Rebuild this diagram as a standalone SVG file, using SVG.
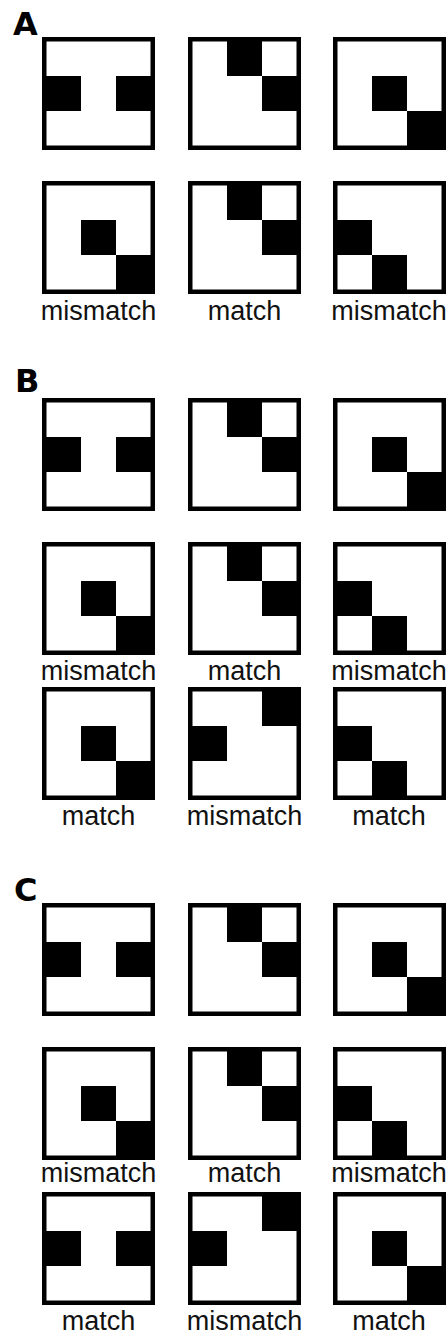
<svg xmlns="http://www.w3.org/2000/svg" xmlns:xlink="http://www.w3.org/1999/xlink" width="448" height="1337" viewBox="0 0 448 1337">
<style>
.frame{fill:#fff;stroke:#000;stroke-width:4.5}
.c{fill:#000}
.lbl{font-family:"Liberation Sans",Arial,sans-serif;font-size:27px;fill:#111;text-anchor:middle}
.pl{font-family:"DejaVu Sans",Verdana,sans-serif;font-weight:bold;font-size:32px;fill:#000}
</style>
<defs>
<rect id="fr" class="frame" x="2.25" y="2.25" width="108.5" height="108.5"/>
<g id="pI"><use xlink:href="#fr"/><rect class="c" x="0" y="39" width="39" height="35"/><rect class="c" x="74" y="39" width="39" height="35"/></g>
<g id="pL"><use xlink:href="#fr"/><rect class="c" x="39" y="0" width="35" height="39"/><rect class="c" x="74" y="39" width="39" height="35"/></g>
<g id="pQ"><use xlink:href="#fr"/><rect class="c" x="39" y="39" width="35" height="35"/><rect class="c" x="74" y="74" width="39" height="39"/></g>
<g id="pS"><use xlink:href="#fr"/><rect class="c" x="0" y="39" width="39" height="35"/><rect class="c" x="39" y="74" width="35" height="39"/></g>
<g id="pR"><use xlink:href="#fr"/><rect class="c" x="74" y="0" width="39" height="39"/><rect class="c" x="0" y="39" width="39" height="35"/></g>
</defs>
<rect width="448" height="1337" fill="#fff"/>

<g id="panelA">
<text class="pl" x="13" y="35">A</text>
<g id="A1"><use xlink:href="#pI" x="42" y="37"/></g>
<g id="A2"><use xlink:href="#pL" x="188" y="37"/></g>
<g id="A3"><use xlink:href="#pQ" x="333" y="37"/></g>
<g id="A4"><use xlink:href="#pQ" x="42" y="181"/><text class="lbl" x="98.5" y="320">mismatch</text></g>
<g id="A5"><use xlink:href="#pL" x="188" y="181"/><text class="lbl" x="244.5" y="320">match</text></g>
<g id="A6"><use xlink:href="#pS" x="333" y="181"/><text class="lbl" x="389" y="320">mismatch</text></g>
</g>

<g id="panelB">
<text class="pl" x="15" y="392">B</text>
<g id="B1"><use xlink:href="#pI" x="42" y="398"/></g>
<g id="B2"><use xlink:href="#pL" x="188" y="398"/></g>
<g id="B3"><use xlink:href="#pQ" x="333" y="398"/></g>
<g id="B4"><use xlink:href="#pQ" x="42" y="542"/><text class="lbl" x="98.5" y="680">mismatch</text></g>
<g id="B5"><use xlink:href="#pL" x="188" y="542"/><text class="lbl" x="244.5" y="680">match</text></g>
<g id="B6"><use xlink:href="#pS" x="333" y="542"/><text class="lbl" x="389" y="680">mismatch</text></g>
<g id="B7"><use xlink:href="#pQ" x="42" y="687"/><text class="lbl" x="98.5" y="825">match</text></g>
<g id="B8"><use xlink:href="#pR" x="188" y="687"/><text class="lbl" x="244.5" y="825">mismatch</text></g>
<g id="B9"><use xlink:href="#pS" x="333" y="687"/><text class="lbl" x="389" y="825">match</text></g>
</g>

<g id="panelC">
<text class="pl" x="14" y="901">C</text>
<g id="C1"><use xlink:href="#pI" x="42" y="903"/></g>
<g id="C2"><use xlink:href="#pL" x="188" y="903"/></g>
<g id="C3"><use xlink:href="#pQ" x="333" y="903"/></g>
<g id="C4"><use xlink:href="#pQ" x="42" y="1047"/><text class="lbl" x="98.5" y="1182">mismatch</text></g>
<g id="C5"><use xlink:href="#pL" x="188" y="1047"/><text class="lbl" x="244.5" y="1182">match</text></g>
<g id="C6"><use xlink:href="#pS" x="333" y="1047"/><text class="lbl" x="389" y="1182">mismatch</text></g>
<g id="C7"><use xlink:href="#pI" x="42" y="1192"/><text class="lbl" x="98.5" y="1330">match</text></g>
<g id="C8"><use xlink:href="#pR" x="188" y="1192"/><text class="lbl" x="244.5" y="1330">mismatch</text></g>
<g id="C9"><use xlink:href="#pQ" x="333" y="1192"/><text class="lbl" x="389" y="1330">match</text></g>
</g>
<g id="connectors"/>
</svg>
